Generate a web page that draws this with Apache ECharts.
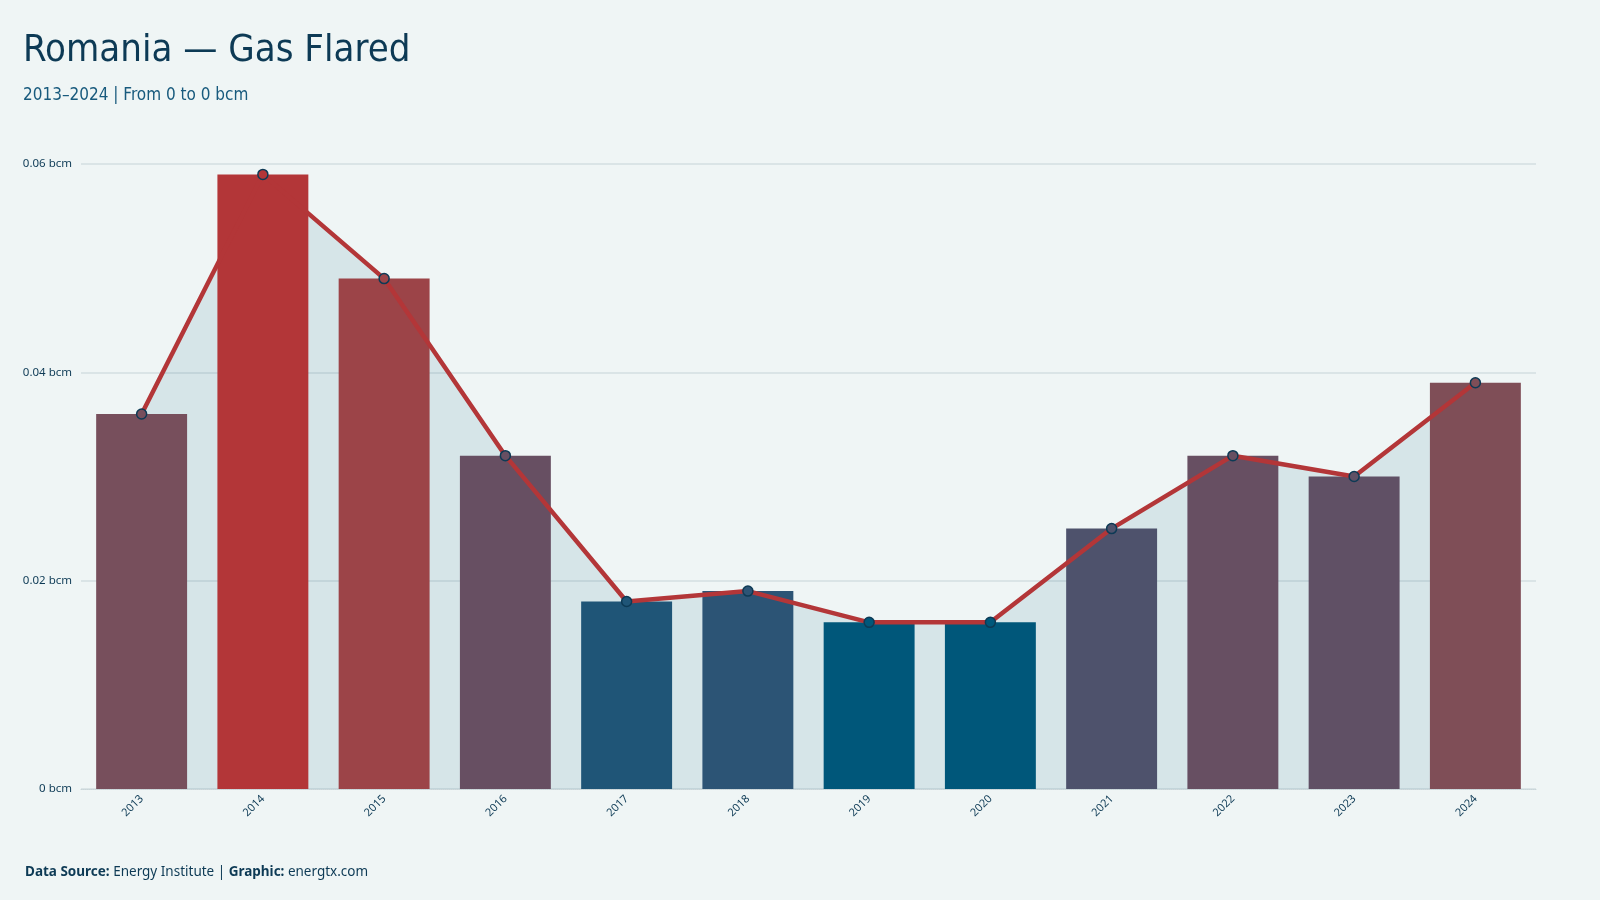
<!DOCTYPE html>
<html>
<head>
<meta charset="utf-8">
<title>Romania — Gas Flared</title>
<script src="https://cdn.jsdelivr.net/npm/echarts@6/dist/echarts.min.js"></script>
<style>
  html, body { margin: 0; padding: 0; background: #eff5f5; }
  #chart { width: 1600px; height: 900px; }
</style>
</head>
<body>
<div id="chart"></div>
<script>
const years = ['2013', '2014', '2015', '2016', '2017', '2018', '2019', '2020', '2021', '2022', '2023', '2024']
const flared = [0.036, 0.059, 0.049, 0.032, 0.018, 0.019, 0.016, 0.016, 0.025, 0.032, 0.030, 0.039]
const yTicks = [0, 0.02, 0.04, 0.06]

const dark = '#0d3a55'
const titleFont = '"Liberation Sans Narrow", "DejaVu Sans Condensed", "Noto Sans", sans-serif'
const bodyFont = '"Noto Sans", "Open Sans", sans-serif'

// blue (low) -> red (high) ramp, evenly spaced stops
const ramp = [
  '#00577a', '#2a5476', '#3b5371', '#4a526d', '#55516a', '#5e5066', '#674f62', '#734f5e',
  '#7b4f5a', '#824d55', '#8a4a51', '#92474d', '#9a4549', '#a04145', '#a73e41', '#ad3a3c', '#b33638'
]

const chart = echarts.init(document.getElementById('chart'))

const option = {
  backgroundColor: '#eff5f5',
  animation: false,
  title: [{
    text: 'Romania — Gas Flared',
    subtext: '2013–2024 | From 0 to 0 bcm',
    left: 18,
    top: 27,
    itemGap: 17,
    textStyle: { fontFamily: titleFont, fontSize: 38, fontWeight: 'normal', color: dark },
    subtextStyle: { fontFamily: titleFont, fontSize: 17, color: '#185a7d' }
  }, {
    text: '{b|Data Source:} Energy Institute | {b|Graphic:} energtx.com',
    left: 20,
    top: 860,
    textStyle: {
      fontFamily: bodyFont, fontSize: 13.5, fontWeight: 'normal', color: dark,
      rich: { b: { fontFamily: bodyFont, fontSize: 13.5, fontWeight: 'bold', color: dark } }
    }
  }],
  grid: { left: 81, right: 64, top: 164, bottom: 111 },
  visualMap: {
    type: 'continuous',
    show: false,
    dimension: 1,
    seriesIndex: [1, 2],
    min: Math.min(...flared),
    max: Math.max(...flared),
    inRange: { color: ramp }
  },
  xAxis: {
    type: 'category',
    data: years,
    axisTick: { show: false },
    axisLine: { lineStyle: { color: '#c9d5d8', type: 'dotted' } },
    axisLabel: { rotate: 45, fontSize: 11, color: dark, fontFamily: bodyFont, margin: 8 }
  },
  yAxis: {
    type: 'value',
    min: yTicks[0],
    max: yTicks[yTicks.length - 1],
    interval: yTicks[1] - yTicks[0],
    axisLine: { show: false },
    axisTick: { show: false },
    axisLabel: {
      fontSize: 11.5, color: dark, fontFamily: bodyFont, margin: 9,
      formatter: v => +v.toFixed(2) + ' bcm'
    },
    splitLine: { lineStyle: { color: '#d3dee1', width: 1.5 } }
  },
  series: [{
    // area under the line, kept behind the bars
    type: 'line',
    data: flared,
    z: 1,
    symbol: 'none',
    silent: true,
    lineStyle: { width: 0 },
    areaStyle: { color: '#00577a', opacity: 0.1 }
  }, {
    type: 'bar',
    data: flared,
    z: 2,
    barWidth: '75%'
  }, {
    type: 'line',
    data: flared,
    z: 3,
    symbol: 'circle',
    symbolSize: 10,
    lineStyle: { color: '#b33638', width: 4.5 },
    itemStyle: { borderColor: dark, borderWidth: 1.5 }
  }]
}

chart.setOption(option)
</script>
</body>
</html>
